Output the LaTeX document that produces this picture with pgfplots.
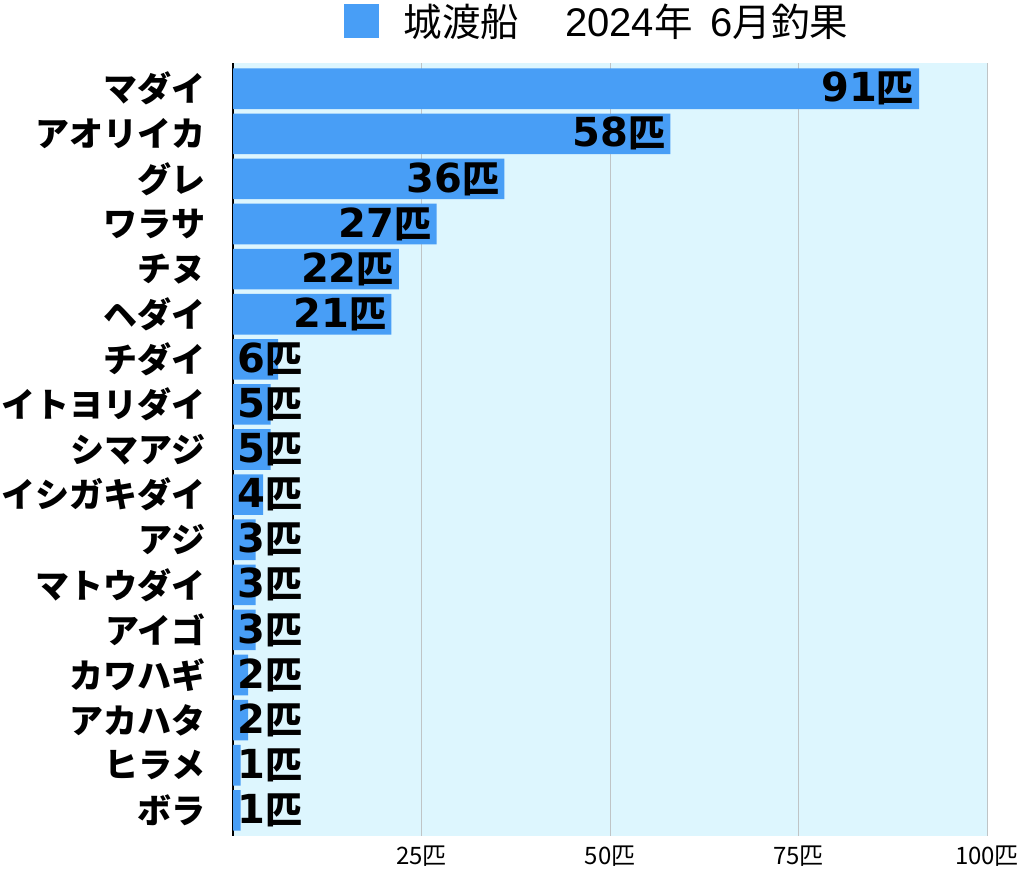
\documentclass[border=0pt]{standalone}
\usepackage{fontspec}
\setmainfont{Noto Sans CJK JP}
\newfontfamily\digitfont{DejaVu Sans}
\newfontfamily\latinfont{Liberation Sans}
\newcommand\dg[1]{{\digitfont\fontsize{40}{40}\selectfont\bfseries #1}}
\newcommand\tdg[1]{{\latinfont\fontsize{40}{40}\selectfont #1}}
\usepackage{pgfplots}
\pgfplotsset{compat=1.18}
\definecolor{barblue}{HTML}{489EF6}
\definecolor{bgcyan}{HTML}{DDF6FE}
\definecolor{gridgray}{HTML}{BFC4C6}
\begin{document}
\begin{tikzpicture}
\useasboundingbox (0,0) rectangle (1024pt,868pt);
\begin{axis}[
 at={(233pt,32pt)}, anchor=south west,
 scale only axis, width=754pt, height=773pt,
 xmin=0, xmax=100, ymin=-0.57, ymax=16.57, y dir=reverse,
 axis background/.style={fill=bgcyan},
 axis y line*=left, axis x line*=bottom,
 x axis line style={draw=none}, y axis line style={black, line width=1.2pt},
 xtick={25,50,75,100}, xticklabels={25匹,50匹,75匹,100匹},
 ytick={0,...,16},
 yticklabels={マダイ,アオリイカ,グレ,ワラサ,チヌ,ヘダイ,チダイ,イトヨリダイ,シマアジ,イシガキダイ,アジ,マトウダイ,アイゴ,カワハギ,アカハタ,ヒラメ,ボラ},
 major tick length=0pt,
 xmajorgrids, grid style={gridgray, line width=0.6pt},
 xticklabel style={font=\fontsize{24}{24}\selectfont, yshift=-6pt},
 yticklabel style={font=\fontsize{34}{34}\selectfont\bfseries, xshift=-24pt},
 legend style={at={(0.5,1)}, anchor=center, yshift=42pt, xshift=-13pt, draw=none, fill=none, font=\fontsize{38.5}{38.5}\selectfont},
 legend cell align=left,
]
\addplot[xbar, fill=barblue, draw=none, bar width=0.9, bar shift=0pt,
 legend image code/.code={\fill[barblue] (0pt,-17pt) rectangle (35pt,17pt);}]
 coordinates {(91,0) (58,1) (36,2) (27,3) (22,4) (21,5) (6,6) (5,7) (5,8) (4,9) (3,10) (3,11) (3,12) (2,13) (2,14) (1,15) (1,16)};
\addlegendentry{\hspace{23pt}城渡船\hspace{46pt}\tdg{2024}年\hspace{18pt}\tdg{6}月釣果}
\addplot[forget plot, draw=none, mark=none, nodes near coords={\dg{\pgfplotspointmeta}匹}, point meta=explicit symbolic,
 nodes near coords style={anchor=east, xshift=-5pt, font=\fontsize{37}{37}\selectfont\bfseries, inner sep=0pt, text=black}]
 table[x=x, y=y, meta=x] {
x y
91 0
58 1
36 2
27 3
22 4
21 5
};
\addplot[forget plot, draw=none, mark=none, nodes near coords={\dg{\pgfplotspointmeta}匹}, point meta=explicit symbolic,
 nodes near coords style={anchor=west, xshift=4pt, font=\fontsize{37}{37}\selectfont\bfseries, inner sep=0pt, text=black}]
 table[x=x, y=y, meta=v] {
x y v
0 6 6
0 7 5
0 8 5
0 9 4
0 10 3
0 11 3
0 12 3
0 13 2
0 14 2
0 15 1
0 16 1
};
\end{axis}
\end{tikzpicture}
\end{document}
